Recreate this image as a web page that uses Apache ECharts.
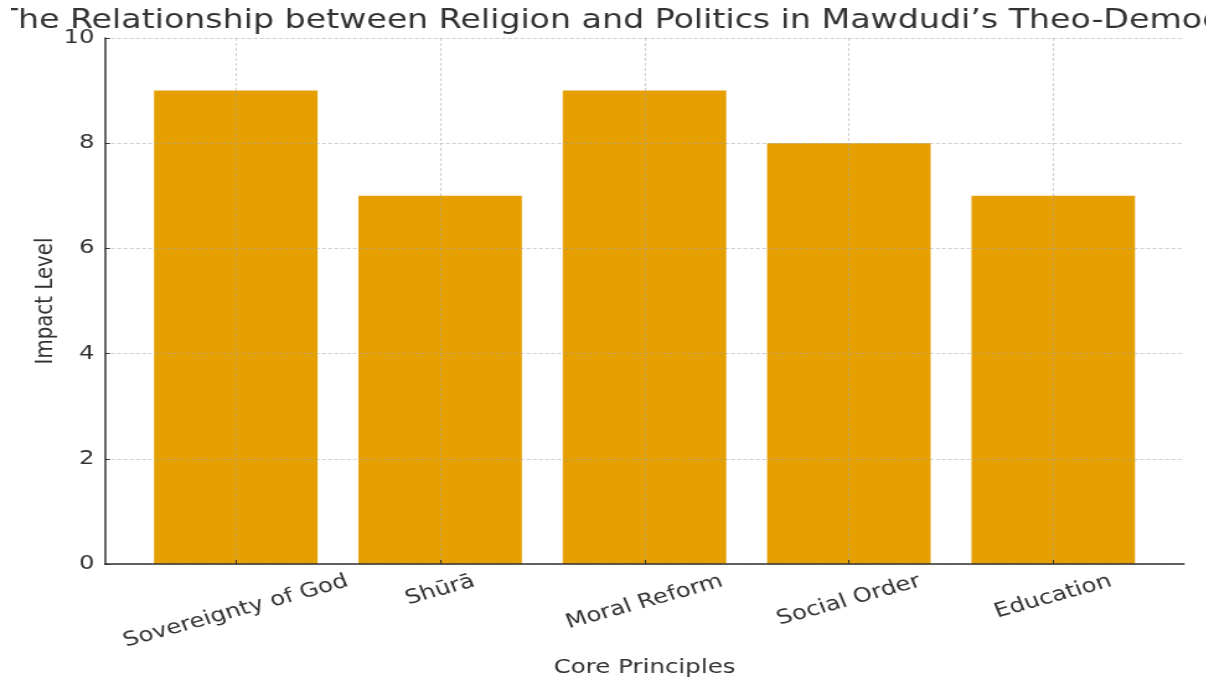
<!DOCTYPE html>
<html><head><meta charset="utf-8">
<script src="https://cdn.jsdelivr.net/npm/echarts@6/dist/echarts.min.js"></script>
<style>
html,body{margin:0;padding:0;background:#fff;overflow:hidden;}
#wrap{width:1224px;height:681px;overflow:hidden;position:relative;background:#fff;clip-path:inset(0 18px 0 11px);}
#chart{position:absolute;left:0;top:0;height:681px;transform-origin:0 0;}
</style></head><body>
<div id="wrap"><div id="chart"></div></div>
<script>
// ---- data ----
const titleText = 'The Relationship between Religion and Politics in Mawdudi’s Theo-Democracy';
const categories = ['Sovereignty of God', 'Shūrā', 'Moral Reform', 'Social Order', 'Education'];
const impactLevels = [9, 7, 9, 8, 7];
const yTicks = [0, 2, 4, 6, 8, 10];
const xAxisName = 'Core Principles';
const yAxisName = 'Impact Level';

// ---- layout (reference is horizontally stretched) ----
const SX = 1.24;
const W = 1224, H = 681;
const W0 = W / SX;
const el = document.getElementById('chart');
el.style.width = W0 + 'px';
el.style.transform = 'scaleX(' + SX + ')';

const FONT = '"DejaVu Sans", sans-serif';
const TXT = '#333333';
const plotL = 105 / SX, plotR = 1184 / SX, plotT = 38, plotB = 564;

const ROT = 18.7;
const rad = ROT * Math.PI / 180;
const XFS = 19.8;
const ctx = document.createElement('canvas').getContext('2d');
ctx.font = XFS + 'px "DejaVu Sans"';
const rich = {};
categories.forEach(function (c, i) {
  const w = ctx.measureText(c).width;
  const h = XFS * 1.17;
  const bboxH = w * Math.sin(rad) + h * Math.cos(rad);
  const d = bboxH / 2;
  const ly = d * Math.cos(rad), lx = d * Math.sin(rad);
  rich['l' + i] = {
    fontFamily: FONT, fontSize: XFS, color: TXT,
    padding: [2 * ly, 2 * lx, 0, 0]
  };
});

const barData = impactLevels.map(function (v, i) { return [i, v]; });
const gridLine = { show: true, lineStyle: { color: 'rgba(165,165,165,0.55)', width: 1, type: [3, 2] } };

const chart = echarts.init(el, null, { renderer: 'canvas', width: W0, height: H });
chart.setOption({
  animation: false,
  backgroundColor: '#ffffff',
  title: {
    text: titleText,
    left: -6.9, top: 3,
    textStyle: { fontFamily: FONT, fontSize: 26.8, fontWeight: 'normal', color: TXT }
  },
  grid: {
    left: plotL, top: plotT, width: plotR - plotL, height: plotB - plotT,
    outerBoundsMode: 'none', containLabel: false
  },
  xAxis: {
    type: 'value', min: -0.64, max: 4.64, z: 5,
    name: xAxisName, nameLocation: 'middle', nameGap: 94, nameMoveOverlap: false,
    nameTextStyle: { fontFamily: FONT, fontSize: XFS, color: TXT },
    axisLine: { show: true, onZero: false, lineStyle: { color: '#333', width: 1.5 } },
    axisTick: { show: true, inside: true, length: 4, lineStyle: { color: '#333', width: 1 }, customValues: [0, 1, 2, 3, 4] },
    axisLabel: {
      show: true, rotate: ROT, margin: 6, align: 'center', verticalAlign: 'middle',
      customValues: [0, 1, 2, 3, 4],
      formatter: function (v) { const i = Math.round(v); return '{l' + i + '|' + categories[i] + '}'; },
      rich: rich
    },
    splitLine: gridLine
  },
  yAxis: {
    type: 'value', min: yTicks[0], max: yTicks[yTicks.length - 1], interval: yTicks[1] - yTicks[0], z: 5,
    name: yAxisName, nameLocation: 'middle', nameGap: 38, nameRotate: 90, nameMoveOverlap: false,
    nameTextStyle: { fontFamily: FONT, fontSize: XFS, color: TXT },
    axisLine: { show: true, onZero: false, lineStyle: { color: '#333', width: 1.5 } },
    axisTick: { show: true, inside: true, length: 4, lineStyle: { color: '#333', width: 1 } },
    axisLabel: { show: true, margin: 8.5, fontFamily: FONT, fontSize: 19.5, color: TXT },
    splitLine: gridLine
  },
  series: [{
    type: 'bar',
    data: barData,
    barWidth: '80%',
    itemStyle: { color: '#E69F00' },
    z: 2
  }]
});
</script>
</body></html>
